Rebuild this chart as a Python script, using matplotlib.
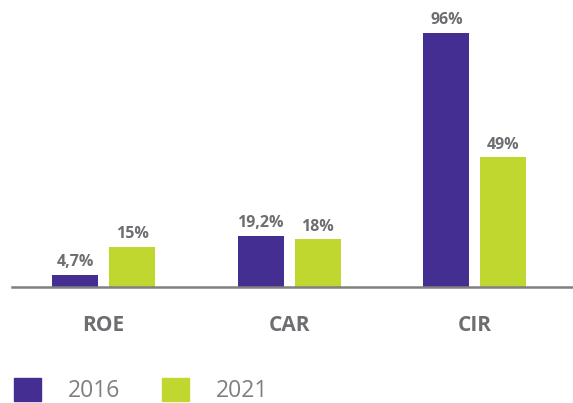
import matplotlib.pyplot as plt
from matplotlib.patches import Patch

# Data
categories = ["ROE", "CAR", "CIR"]
years = ["2016", "2021"]
values_2016 = [4.7, 19.2, 96]
values_2021 = [15, 18, 49]
labels_2016 = ["4,7%", "19,2%", "96%"]
labels_2021 = ["15%", "18%", "49%"]

purple = "#452E91"
lime = "#C0D72F"
grey = "#6D6E71"

plt.rcParams['font.family'] = ['Open Sans', 'DejaVu Sans']

fig = plt.figure(figsize=(5.73, 4.03), dpi=100)
ax = fig.add_axes([12 / 573, 116 / 403, 561 / 573, 287 / 403])

x = list(range(len(categories)))
w = 0.2476
off = 0.1534

bars1 = ax.bar([i - off for i in x], values_2016, width=w, color=purple)
bars2 = ax.bar([i + off for i in x], values_2021, width=w, color=lime)

for bars, labs in [(bars1, labels_2016), (bars2, labels_2021)]:
    for b, lab in zip(bars, labs):
        ax.annotate(lab, (b.get_x() + b.get_width() / 2, b.get_height()),
                    xytext=(0, 3.5), textcoords="offset points",
                    ha="center", va="bottom", fontsize=11.5,
                    fontweight="bold", color=grey)

ax.set_xlim(-0.4926, 2.528)
ax.set_ylim(0, 108.5)

ax.set_xticks(x)
ax.set_xticklabels(categories, fontsize=15, fontweight="bold", color=grey)
ax.tick_params(axis="x", length=0, pad=20)
ax.set_yticks([])

for s in ["top", "right", "left"]:
    ax.spines[s].set_visible(False)
ax.spines["bottom"].set_color("#808080")
ax.spines["bottom"].set_linewidth(1.8)

# Legend
handles = [Patch(color=purple), Patch(color=lime)]
fig.legend(handles, years, loc="lower left",
           bbox_to_anchor=(14 / 573, 0.0), frameon=False,
           fontsize=16.5, labelcolor="#7F7F7F", ncol=2,
           handlelength=1.18, handleheight=1.18, handletextpad=1.15,
           columnspacing=1.85, borderpad=0, borderaxespad=0)

fig.savefig("out.png", dpi=100)
